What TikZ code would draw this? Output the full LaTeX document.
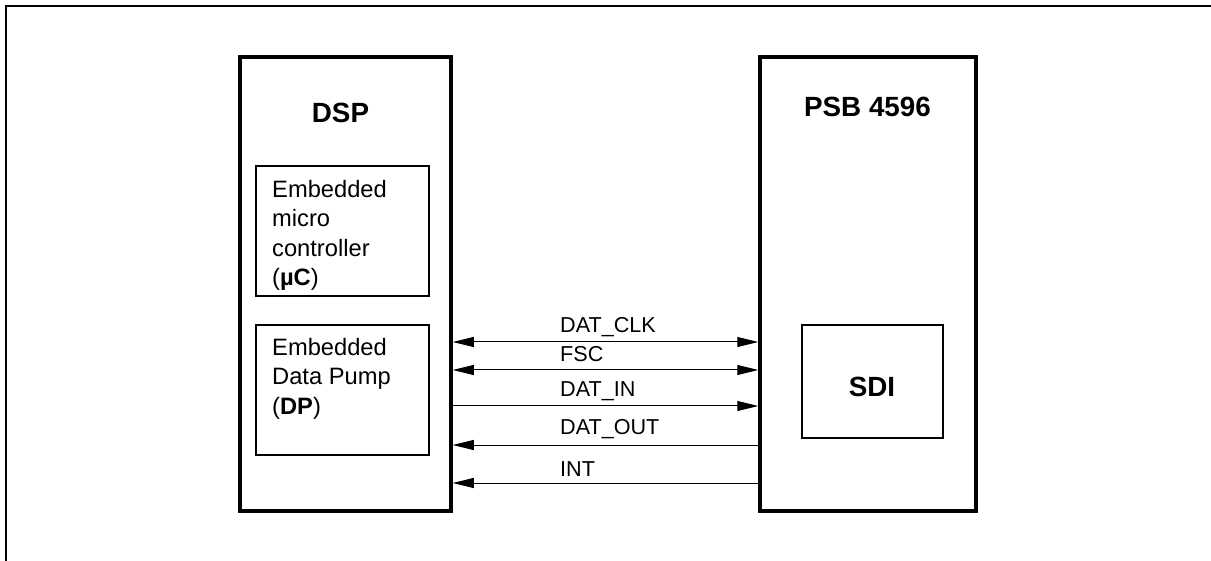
\documentclass[tikz,border=0pt]{standalone}
\usepackage{fontspec}
\setmainfont{Liberation Sans}
\usepackage{tikz}
\usetikzlibrary{arrows.meta,positioning}

\begin{document}
\begin{tikzpicture}[
  x=1pt,y=-1pt,
  chip/.style={rectangle,draw,line width=3.5pt,inner sep=0pt},
  unit/.style={rectangle,draw,line width=1.3pt,inner sep=0pt},
  title/.style={anchor=base,font=\fontsize{27.8}{32}\selectfont\bfseries,inner sep=0pt},
  txt/.style={anchor=north west,align=left,inner sep=0pt,font=\fontsize{23.7}{29.5}\selectfont},
  sig/.style={anchor=base west,inner sep=0pt,font=\fontsize{21.6}{26}\selectfont},
  link/.style={line width=1pt},
  tip/.tip={Triangle[length=21pt,width=10pt]}
]
\useasboundingbox (0,0) rectangle (1211,561);
% outer frame (only top and left edge shown)
\draw[line width=2pt] (1211,6.5) -- (6,6.5) -- (6,561);

% the two chips
\node[chip,minimum width=211pt,minimum height=454pt] (dsp) at (345.5,284) {};
\node[chip,minimum width=216pt,minimum height=454pt] (psb) at (868,284) {};
\node[title] (dsptitle) at (340.5,123) {DSP};
\node[title] (psbtitle) at (867.5,116.5) {PSB 4596};

% blocks inside
\node[unit,minimum width=173pt,minimum height=130pt] (muc) at (342.5,231) {};
\node[unit,minimum width=173pt,minimum height=130pt] (dp) at (342.5,390) {};
\node[unit,minimum width=141pt,minimum height=113pt] (sdi) at (872.5,381.5) {};
\node[txt] (muctext) at (272,179.7) {Embedded\\micro\\controller\\(\textbf{µC})};
\node[txt] (dptext) at (272,337.7) {Embedded\\Data Pump\\(\textbf{DP})};
\node[title] (sditext) at (872,397) {SDI};

% signal lines
\coordinate (clk) at (0,342);
\coordinate (fsc) at (0,370);
\coordinate (din) at (0,406);
\coordinate (dout) at (0,445);
\coordinate (int) at (0,483);
\draw[link,tip-tip] (dsp.east |- clk) -- (psb.west |- clk);
\draw[link,tip-tip] (dsp.east |- fsc) -- (psb.west |- fsc);
\draw[link,-tip] (dsp.east |- din) -- (psb.west |- din);
\draw[link,tip-] (dsp.east |- dout) -- (psb.west |- dout);
\draw[link,tip-] (dsp.east |- int) -- (psb.west |- int);
\node[sig] (lclk) at (560,333) {DAT\_CLK};
\node[sig] (lfsc) at (560,362) {FSC};
\node[sig] (ldin) at (560,397) {DAT\_IN};
\node[sig] (ldout) at (560,435) {DAT\_OUT};
\node[sig] (lint) at (560,476) {INT};
\end{tikzpicture}
\end{document}
